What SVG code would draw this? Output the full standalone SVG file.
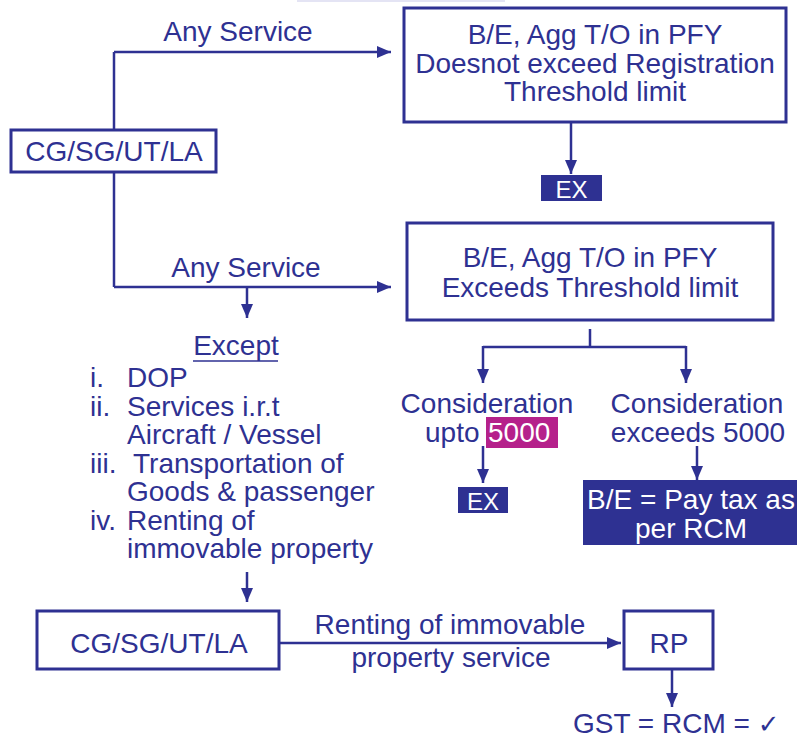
<svg xmlns="http://www.w3.org/2000/svg" width="798" height="742" viewBox="0 0 798 742">
<defs>
<marker id="ah" viewBox="0 0 14 12" refX="14" refY="6" markerWidth="14" markerHeight="12" markerUnits="userSpaceOnUse" orient="auto">
<path d="M0,0 L14,6 L0,12 z" fill="#2e3192"/>
</marker>
<style>
.t{font-family:"Liberation Sans",Arial,sans-serif;font-size:28px;fill:#2e3192}
.c{text-anchor:middle}
.w{fill:#ffffff}
.box{fill:#ffffff;stroke:#2e3192;stroke-width:3}
.fill{fill:#2e3192}
.ln{fill:none;stroke:#2e3192;stroke-width:2.5}
.ar{fill:none;stroke:#2e3192;stroke-width:2.5;marker-end:url(#ah)}
</style>
</defs>
<rect width="798" height="742" fill="#ffffff"/>
<rect x="297" y="0" width="208" height="2" fill="#e4e4f4"/>

<g id="connectors">
<path class="ln" d="M114,130 V52"/>
<path class="ar" d="M114,52 H391"/>
<path class="ln" d="M114,172 V287"/>
<path class="ar" d="M114,287 H391"/>
<path class="ar" d="M247,287 V318"/>
<path class="ar" d="M571,122 V174"/>
<path class="ln" d="M590,329 V347 M483,347 H686"/>
<path class="ar" d="M483,346 V383"/>
<path class="ar" d="M686,346 V383"/>
<path class="ar" d="M483,446 V483"/>
<path class="ar" d="M697,446 V480"/>
<path class="ar" d="M247,572 V602"/>
<path class="ar" d="M279,643 H621"/>
<path class="ar" d="M672,669 V707"/>
</g>

<g id="labels">
<text class="t c" x="238" y="41">Any Service</text>
<text class="t c" x="246" y="277">Any Service</text>
<text class="t c" x="450" y="634">Renting of immovable</text>
<text class="t c" x="451" y="667">property service</text>
</g>

<g id="cg-top">
<rect class="box" x="11" y="130" width="205" height="42"/>
<text class="t c" x="114" y="161">CG/SG/UT/LA</text>
</g>

<g id="not-exceed">
<rect class="box" x="404" y="8" width="382" height="114"/>
<text class="t c" x="595" y="44">B/E, Agg T/O in PFY</text>
<text class="t c" x="595" y="73">Doesnot exceed Registration</text>
<text class="t c" x="595" y="101">Threshold limit</text>
</g>

<g id="ex-top">
<rect class="fill" x="541" y="175" width="61" height="26"/>
<text class="t c w" x="571.5" y="198" style="font-size:24px">EX</text>
</g>

<g id="exceeds">
<rect class="box" x="407" y="223" width="366" height="97"/>
<text class="t c" x="590" y="267">B/E, Agg T/O in PFY</text>
<text class="t c" x="590" y="297">Exceeds Threshold limit</text>
</g>

<g id="upto">
<text class="t c" x="487" y="413">Consideration</text>
<rect x="486" y="417" width="72" height="31" fill="#b5218b"/>
<text class="t" x="425" y="442">upto</text>
<text class="t w" x="488" y="442">5000</text>
</g>

<g id="ex-bottom">
<rect class="fill" x="458" y="487" width="50" height="26"/>
<text class="t c w" x="483" y="510" style="font-size:24px">EX</text>
</g>

<g id="over">
<text class="t c" x="697" y="413">Consideration</text>
<text class="t c" x="698" y="442">exceeds 5000</text>
</g>

<g id="rcm-box">
<rect class="fill" x="583" y="480" width="214" height="65"/>
<text class="t c w" x="691" y="509">B/E = Pay tax as</text>
<text class="t c w" x="691" y="538">per RCM</text>
</g>

<g id="except">
<text class="t c" x="236" y="355">Except</text>
<line x1="193" y1="361" x2="278" y2="361" stroke="#2e3192" stroke-width="1.5"/>
<text class="t" x="90" y="387">i.</text>
<text class="t" x="127" y="387">DOP</text>
<text class="t" x="90" y="415.5">ii.</text>
<text class="t" x="127" y="415.5">Services i.r.t</text>
<text class="t" x="127" y="444">Aircraft / Vessel</text>
<text class="t" x="90" y="472.5">iii.</text>
<text class="t" x="133" y="472.5">Transportation of</text>
<text class="t" x="127" y="501">Goods &amp; passenger</text>
<text class="t" x="90" y="529.5">iv.</text>
<text class="t" x="127" y="529.5">Renting of</text>
<text class="t" x="127" y="558">immovable property</text>
</g>

<g id="cg-bottom">
<rect class="box" x="37" y="611" width="242" height="58"/>
<text class="t c" x="159" y="653">CG/SG/UT/LA</text>
</g>

<g id="rp">
<rect class="box" x="624" y="611" width="89" height="58"/>
<text class="t c" x="669" y="653">RP</text>
</g>

<g id="gst">
<text class="t" x="573" y="733">GST = RCM = <tspan style="font-family:'DejaVu Sans',sans-serif;font-size:26px">✓</tspan></text>
</g>
</svg>
